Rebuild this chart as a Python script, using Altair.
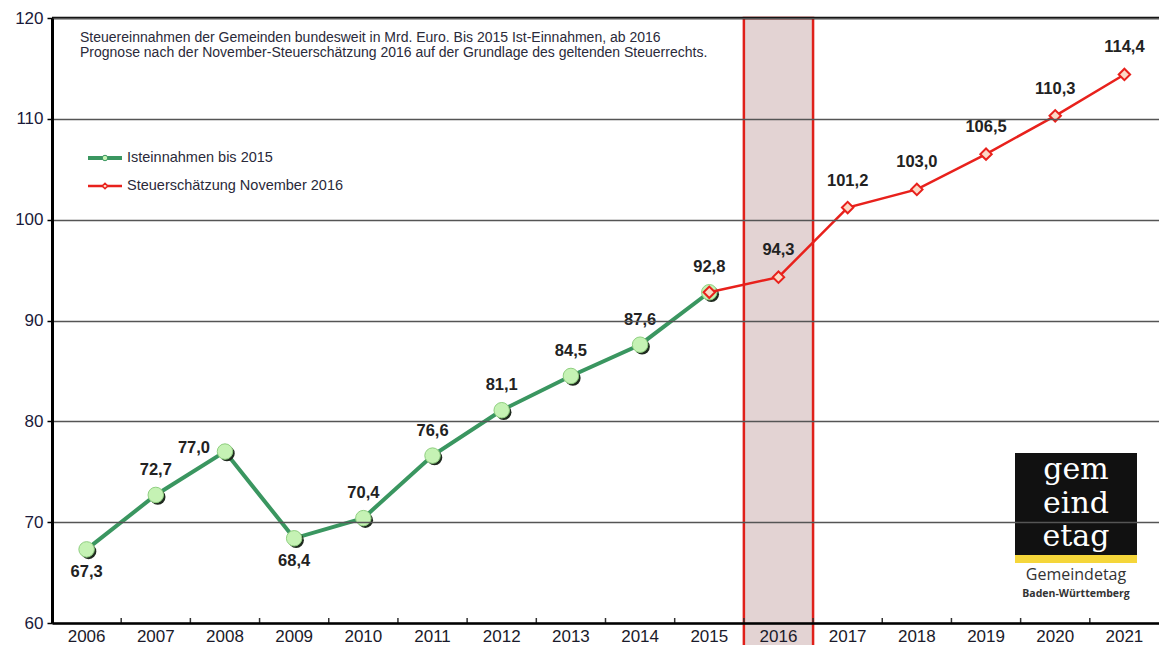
import altair as alt
import pandas as pd

# ---- data ----
years = [str(y) for y in range(2006, 2022)]
ist_years = ["2006", "2007", "2008", "2009", "2010", "2011", "2012", "2013", "2014", "2015"]
ist_values = [67.3, 72.7, 77.0, 68.4, 70.4, 76.6, 81.1, 84.5, 87.6, 92.8]
prog_years = ["2015", "2016", "2017", "2018", "2019", "2020", "2021"]
prog_values = [92.8, 94.3, 101.2, 103.0, 106.5, 110.3, 114.4]
highlight_year = ["2016"]
y_ticks = [60, 70, 80, 90, 100, 110, 120]
title_lines = [
    "Steuereinnahmen der Gemeinden bundesweit  in Mrd.  Euro. Bis 2015 Ist-Einnahmen, ab 2016",
    "Prognose nach der November-Steuerschätzung 2016 auf der Grundlage des geltenden Steuerrechts.",
]
legend_labels = ["Isteinnahmen bis 2015", "Steuerschätzung November 2016"]
logo_words = ["gem", "eind", "etag"]
logo_names = ["Gemeindetag", "Baden-Württemberg"]

W, H = 1107, 605
FONT = "Liberation Sans"

def fmt(v):
    return f"{v:.1f}".replace(".", ",")

ist = pd.DataFrame({"year": ist_years, "value": ist_values})
ist["label"] = [fmt(v) for v in ist_values]
prog = pd.DataFrame({"year": prog_years, "value": prog_values})
prog["label"] = [fmt(v) for v in prog_values]
hl = pd.DataFrame({"year": highlight_year})
yrs = pd.DataFrame({"year": years[1:]})

xscale = alt.Scale(domain=years, paddingInner=0, paddingOuter=0)
yscale = alt.Scale(domain=[60, 120], nice=False, zero=False)

X = alt.X("year:N", scale=xscale, sort=years,
          axis=alt.Axis(title=None, labelAngle=0, labelFont=FONT, labelFontSize=17,
                        labelColor="#1a1a2a", labelPadding=5, ticks=False,
                        domainColor="black", domainWidth=2.5, grid=False, zindex=1))
Y = alt.Y("value:Q", scale=yscale,
          axis=alt.Axis(title=None, values=y_ticks, labelFont=FONT, labelFontSize=17,
                        labelColor="#1a1a3a", labelPadding=4, tickSize=5, tickColor="black",
                        tickWidth=1.5, domainColor="black", domainWidth=3,
                        grid=True, gridColor="#555", gridWidth=1.5, zindex=1))

band = alt.Chart(hl).mark_rect(fill="#e3d3d3", stroke="#e0201a", strokeWidth=2.5).encode(
    x=X, y=alt.value(0), y2=alt.value(H + 32),
)

xticks = alt.Chart(yrs).mark_rule(color="#333", strokeWidth=1.5).encode(
    x=alt.X("year:N", scale=xscale, sort=years, bandPosition=0),
    y=alt.value(H - 5), y2=alt.value(H),
)

top_rule = alt.Chart(hl).mark_rule(color="black", strokeWidth=2.5).encode(
    x=alt.value(0), x2=alt.value(W), y=alt.value(0)
)

green_line = alt.Chart(ist).mark_line(color="#3a9660", strokeWidth=4).encode(x=X, y=Y)
green_shadow = alt.Chart(ist).mark_circle(color="#1f2a1f", size=240, opacity=1, xOffset=2, yOffset=2).encode(x=X, y=Y)
green_pts = alt.Chart(ist).mark_circle(color="#c5f2b4", size=240, opacity=1, stroke="#8fcf80", strokeWidth=1).encode(x=X, y=Y)

red_line = alt.Chart(prog).mark_line(color="#e8211c", strokeWidth=2.5).encode(x=X, y=Y)
red_pts = alt.Chart(prog).mark_point(shape="diamond", size=130, filled=True, fill="#fcd9c6",
                                     stroke="#e8211c", strokeWidth=2, opacity=1).encode(x=X, y=Y)

lbl_style = dict(font=FONT, fontSize=16.5, fontWeight="bold", color="#222")
below = ["2006", "2009"]
left = ["2008"]

ist_above = alt.Chart(ist).transform_filter(
    ~alt.FieldOneOfPredicate(field="year", oneOf=below + left)
).mark_text(dy=-25, **lbl_style).encode(x=X, y=Y, text="label:N")
ist_below = alt.Chart(ist).transform_filter(
    alt.FieldOneOfPredicate(field="year", oneOf=below)
).mark_text(dy=23, **lbl_style).encode(x=X, y=Y, text="label:N")
ist_left = alt.Chart(ist).transform_filter(
    alt.FieldOneOfPredicate(field="year", oneOf=left)
).mark_text(dx=-31, dy=-4, **lbl_style).encode(x=X, y=Y, text="label:N")
prog_lbl = alt.Chart(prog).transform_filter(
    alt.FieldOneOfPredicate(field="year", oneOf=prog_years[1:])
).mark_text(dy=-27, **lbl_style).encode(x=X, y=Y, text="label:N")

# ---- annotation texts (pixel placed) ----
def line_text(items, idx, x, y, **kw):
    df = pd.DataFrame({"t": items, "i": list(range(len(items)))})
    return alt.Chart(df).transform_filter(f"datum.i == {idx}").mark_text(**kw).encode(
        x=alt.value(x), y=alt.value(y), text="t:N")

title_kw = dict(align="left", baseline="middle", font=FONT, fontSize=14, color="#2a2a3a")
title1 = line_text(title_lines, 0, 28, 20, **title_kw)
title2 = line_text(title_lines, 1, 28, 35, **title_kw)

leg_kw = dict(align="left", baseline="middle", font=FONT, fontSize=14.5, color="#2a2a3a")
leg_t1 = line_text(legend_labels, 0, 75, 140, **leg_kw)
leg_t2 = line_text(legend_labels, 1, 75, 168, **leg_kw)
leg_df = pd.DataFrame({"name": legend_labels})
leg_green_line = alt.Chart(leg_df).transform_filter(alt.datum.name == legend_labels[0]).mark_rule(
    color="#3a9660", strokeWidth=4).encode(x=alt.value(36), x2=alt.value(70), y=alt.value(140))
leg_green_pt = alt.Chart(leg_df).transform_filter(alt.datum.name == legend_labels[0]).mark_circle(
    color="#c5f2b4", size=30, opacity=1, stroke="#3a9660", strokeWidth=1).encode(x=alt.value(53), y=alt.value(140))
leg_red_line = alt.Chart(leg_df).transform_filter(alt.datum.name == legend_labels[1]).mark_rule(
    color="#e8211c", strokeWidth=2.5).encode(x=alt.value(36), x2=alt.value(70), y=alt.value(168))
leg_red_pt = alt.Chart(leg_df).transform_filter(alt.datum.name == legend_labels[1]).mark_point(
    shape="diamond", size=30, filled=True, fill="#fcd9c6", stroke="#e8211c", strokeWidth=1.5,
    opacity=1).encode(x=alt.value(53), y=alt.value(168))

# ---- logo (approximation) ----
logo_box = alt.Chart(hl).mark_rect(color="#111").encode(
    x=alt.value(963), x2=alt.value(1085), y=alt.value(435), y2=alt.value(537))
word_kw = dict(align="center", baseline="middle", font="DejaVu Serif", fontSize=30, color="white")
logo_w1 = line_text(logo_words, 0, 1024, 452, **word_kw)
logo_w2 = line_text(logo_words, 1, 1024, 486, **word_kw)
logo_w3 = line_text(logo_words, 2, 1024, 519, **word_kw)
logo_bar = alt.Chart(hl).mark_rect(color="#f5d63a").encode(
    x=alt.value(963), x2=alt.value(1085), y=alt.value(537), y2=alt.value(545))
logo_t1 = line_text(logo_names, 0, 1024, 557, align="center", baseline="middle",
                    font="Open Sans", fontSize=16, color="#333")
logo_t2 = line_text(logo_names, 1, 1024, 576, align="center", baseline="middle",
                    font="Open Sans", fontSize=10.5, fontWeight="bold", color="#333")

chart = alt.layer(
    band, xticks, green_line, green_shadow, green_pts, red_line, red_pts,
    ist_above, ist_below, ist_left, prog_lbl,
    title1, title2, leg_green_line, leg_green_pt, leg_red_line, leg_red_pt, leg_t1, leg_t2,
    logo_box, logo_w1, logo_w2, logo_w3, logo_bar, logo_t1, logo_t2, top_rule,
).properties(
    width=W, height=H,
    autosize=alt.AutoSizeParams(type="none"),
    padding={"left": 44, "top": 10, "right": 0, "bottom": 22},
).configure_view(stroke=None).configure(background="white")

chart.save("out.html", embed_options={"renderer": "svg", "actions": False})
